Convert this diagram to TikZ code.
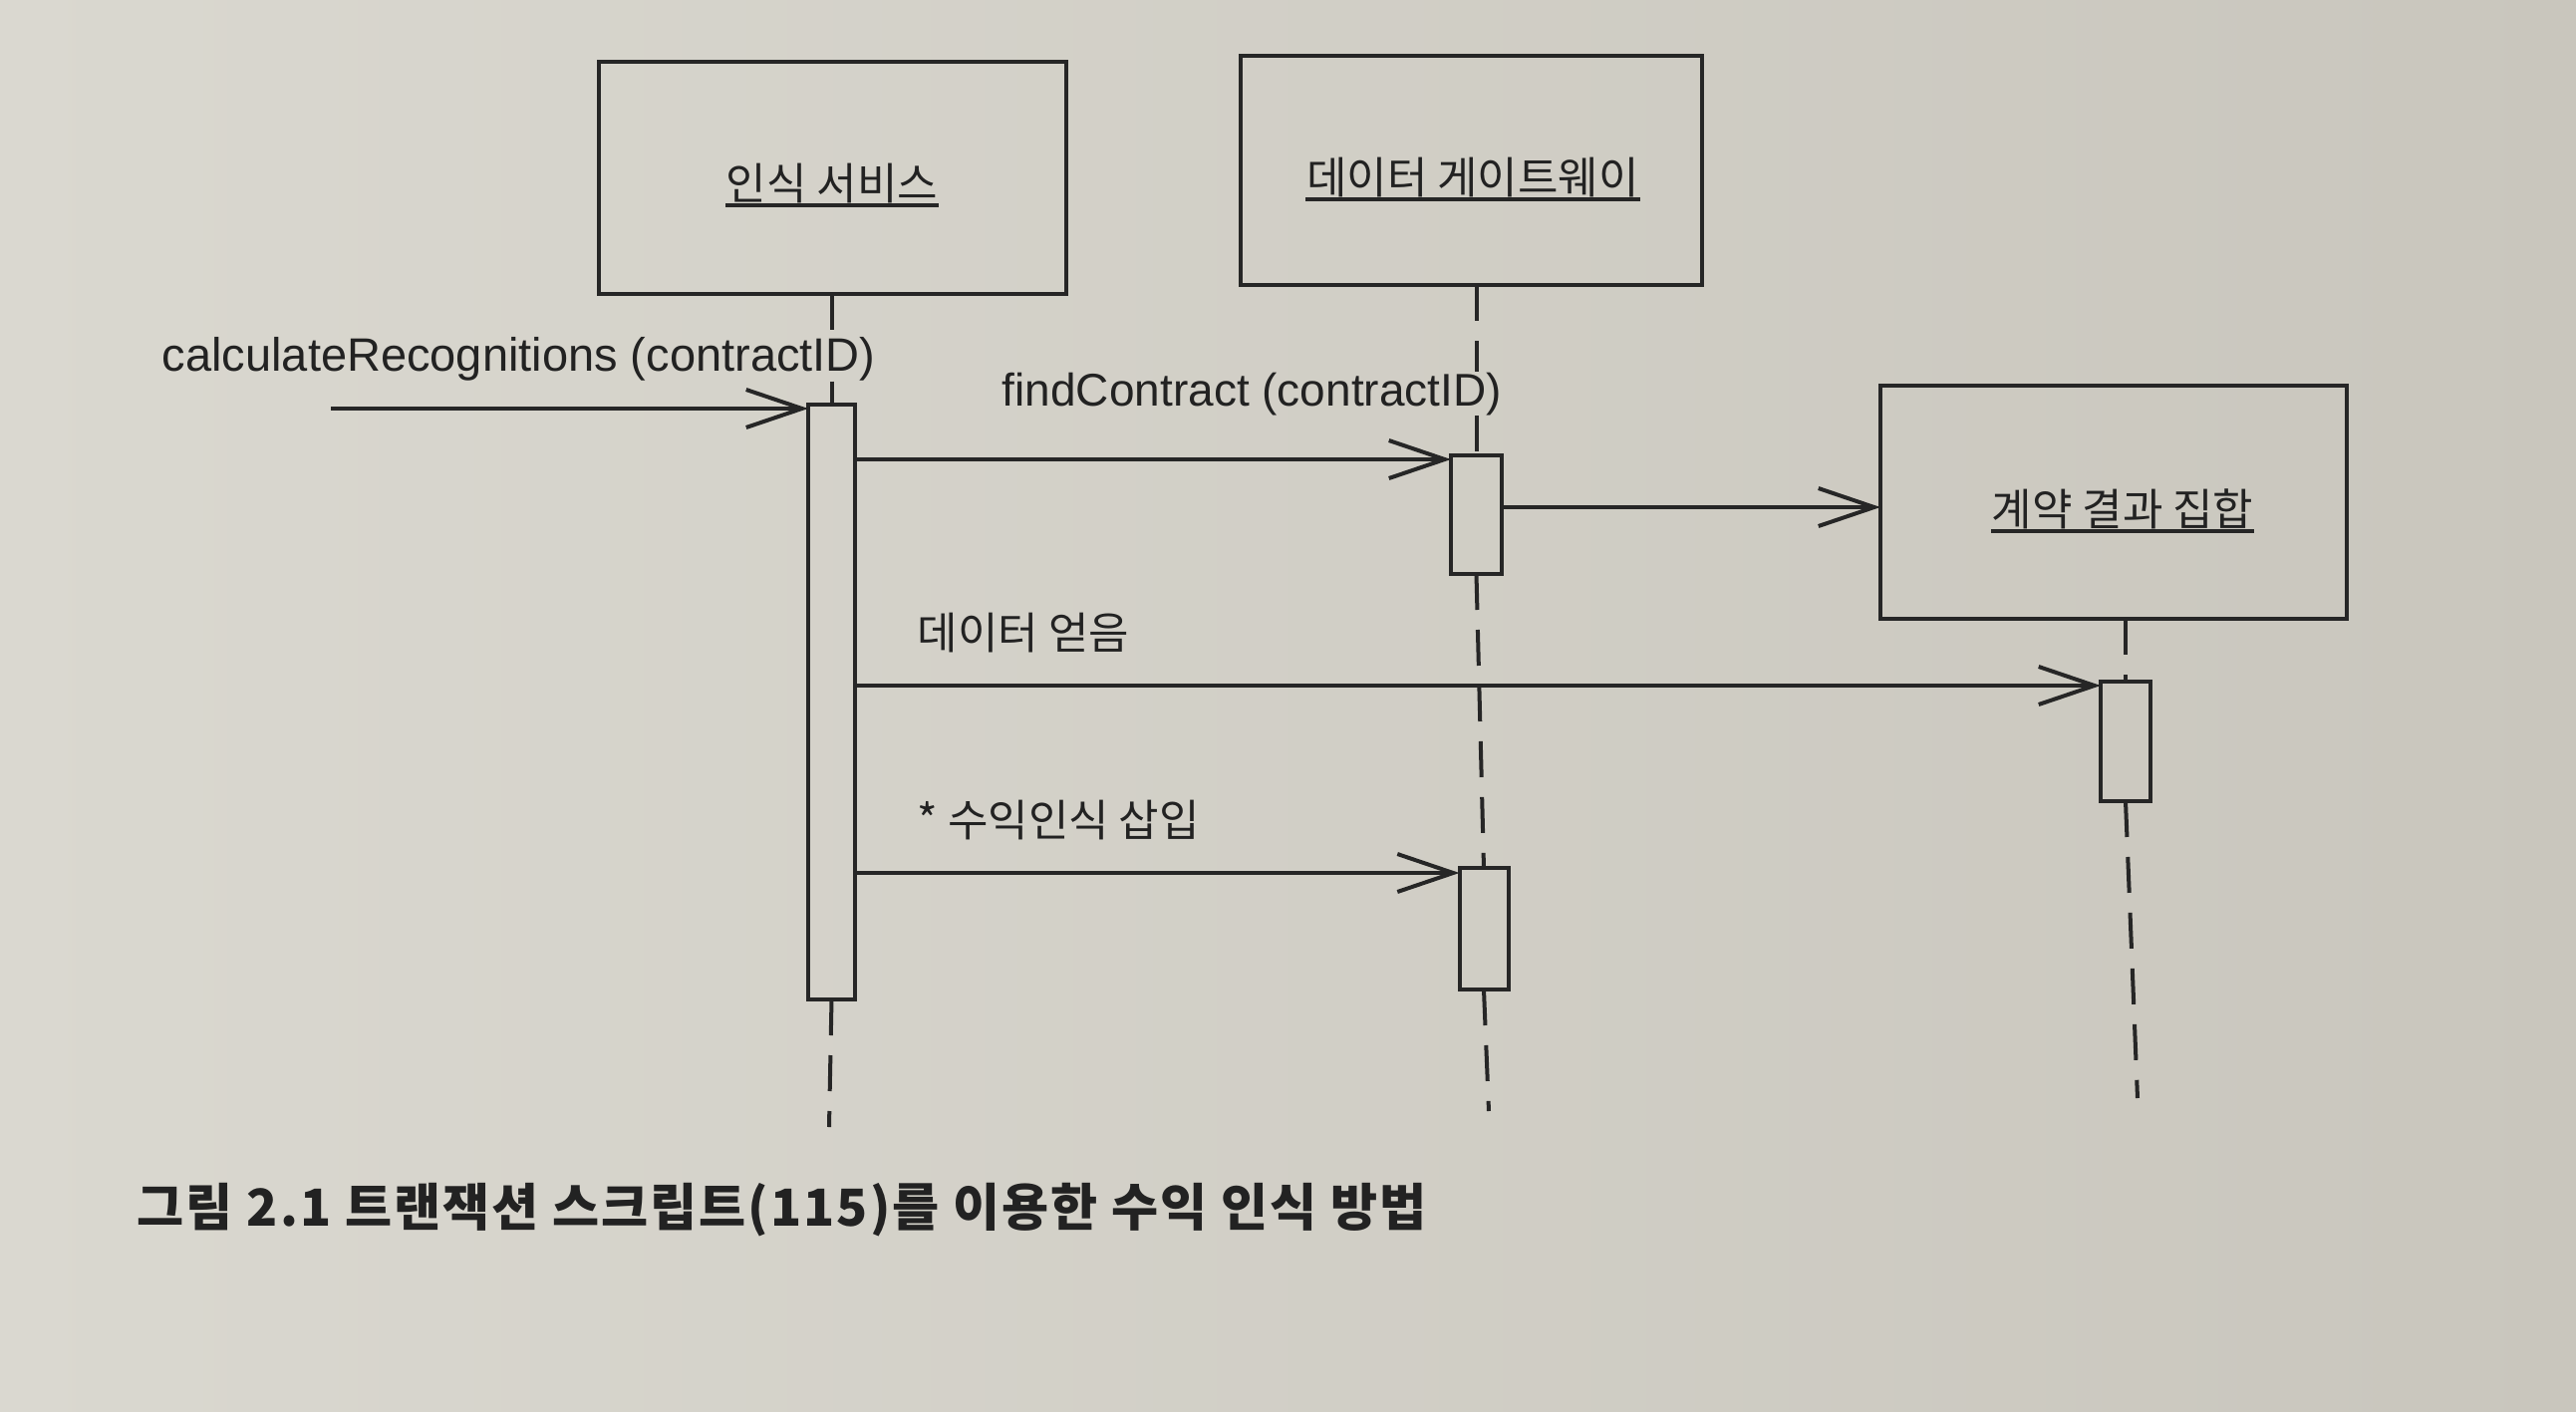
\documentclass[tikz,border=0pt]{standalone}
\usepackage{fontspec}
\setmainfont{Liberation Sans}
\newfontfamily\kr{Noto Sans CJK KR}
\newfontfamily\krcap[LetterSpace=4]{Noto Sans CJK KR}
\usetikzlibrary{arrows.meta}
\definecolor{inkc}{HTML}{262626}
\definecolor{textc}{HTML}{222222}
\definecolor{bgl}{HTML}{DAD8D0}
\definecolor{bgr}{HTML}{C9C6BD}
\begin{document}
\begin{tikzpicture}[x=0.25pt,y=-0.25pt,
  ink/.style={draw=inkc, line width=1pt},
  objbox/.style={ink, rectangle, inner sep=0pt, outer sep=0pt},
  actbar/.style={ink, rectangle, inner sep=0pt, outer sep=0pt},
  msg/.style={ink, -{Straight Barb[length=14pt,width=9.5pt,line width=1pt]}},
  life/.style={ink, dash pattern=on 9pt off 5pt},
  ulin/.style={draw=inkc, line width=0.8pt},
  lat/.style={font=\fontsize{11.5pt}{13pt}\selectfont, text=textc, inner sep=0pt, anchor=base west},
  kor/.style={font=\kr\fontsize{11pt}{13pt}\selectfont, text=textc, inner sep=0pt},
  figcaption/.style={font=\krcap\bfseries\fontsize{12.8pt}{15pt}\selectfont, text=textc, inner sep=0pt, anchor=base west}
]
% paper
\shade[left color=bgl, right color=bgr] (0,0) rectangle (2585,1416);
\useasboundingbox (0,0) rectangle (2585,1416);

% object boxes
\node[objbox, minimum width=117.25pt, minimum height=58.25pt] (svc) at (835.5,178.5) {};
\node[objbox, minimum width=115.75pt, minimum height=57.5pt] (gw) at (1476,171) {};
\node[objbox, minimum width=117pt, minimum height=58.5pt] (rs) at (2121,504) {};

% object names (underlined)
\node[kor, anchor=base] (svcL) at (835,200) {인식 서비스};
\draw[ulin] ([yshift=-1.5pt]svcL.base west) -- ([yshift=-1.5pt]svcL.base east);
\node[kor, anchor=base] (gwL) at (1478,194) {데이터 게이트웨이};
\draw[ulin] ([yshift=-1.5pt]gwL.base west) -- ([yshift=-1.5pt]gwL.base east);
\node[kor, anchor=base] (rsL) at (2130,527) {계약 결과 집합};
\draw[ulin] ([yshift=-1.5pt]rsL.base west) -- ([yshift=-1.5pt]rsL.base east);

% activation bars
\node[actbar, minimum width=11.75pt, minimum height=149.25pt] (bar1) at (834.5,704.5) {};
\node[actbar, minimum width=12.75pt, minimum height=29.75pt] (bar2) at (1481.5,516.5) {};
\node[actbar, minimum width=12.25pt, minimum height=30.5pt] (bar2b) at (1489,932) {};
\node[actbar, minimum width=12.5pt, minimum height=30pt] (bar3) at (2133,744) {};

% message labels
\node[lat, font=\fontsize{11.75pt}{13pt}\selectfont] (l1) at (162,372) {calculateRecognitions (contractID)};
\node[lat] (l2) at (1005,407) {findContract (contractID)};
\node[kor, anchor=base west] (l4) at (920,651) {데이터 얻음};
\node[kor, anchor=base west] (l5) at (920,839) {* 수익인식 삽입};

% lifelines
\coordinate (e1) at (832,1131);
\coordinate (e2) at (1494,1115);
\coordinate (e3) at (2145,1102);
\draw[life] (svc.south -| bar1.north) -- (bar1.north |- l1.north);
\draw[life] (bar1.north |- l1.south) -- (bar1.north);
\draw[life] (bar1.south) -- (e1);
\draw[life] (gw.south -| bar2.north) -- (bar2.north |- l2.north);
\draw[life] (bar2.north |- l2.south) -- (bar2.north);
\draw[life] (bar2.south) -- (bar2b.north);
\draw[life] (bar2b.south) -- (e2);
\draw[life] (rs.south -| bar3.north) -- (bar3.north);
\draw[life] (bar3.south) -- (e3);

% messages
\coordinate (s1) at (332,410);
\coordinate (r2) at (0,461);
\coordinate (r3) at (0,509);
\coordinate (r4) at (0,688);
\coordinate (r5) at (0,876);
\draw[msg] (s1) -- (s1 -| bar1.west);
\draw[msg] (bar1.east |- r2) -- (bar2.west |- r2);
\draw[msg] (bar2.east |- r3) -- (rs.west |- r3);
\draw[msg] (bar1.east |- r4) -- (bar3.west |- r4);
\draw[msg] (bar1.east |- r5) -- (bar2b.west |- r5);

% caption
\node[figcaption] (caption) at (137,1230) {그림 2.1 트랜잭션 스크립트(115)를 이용한 수익 인식 방법};
\end{tikzpicture}
\end{document}
